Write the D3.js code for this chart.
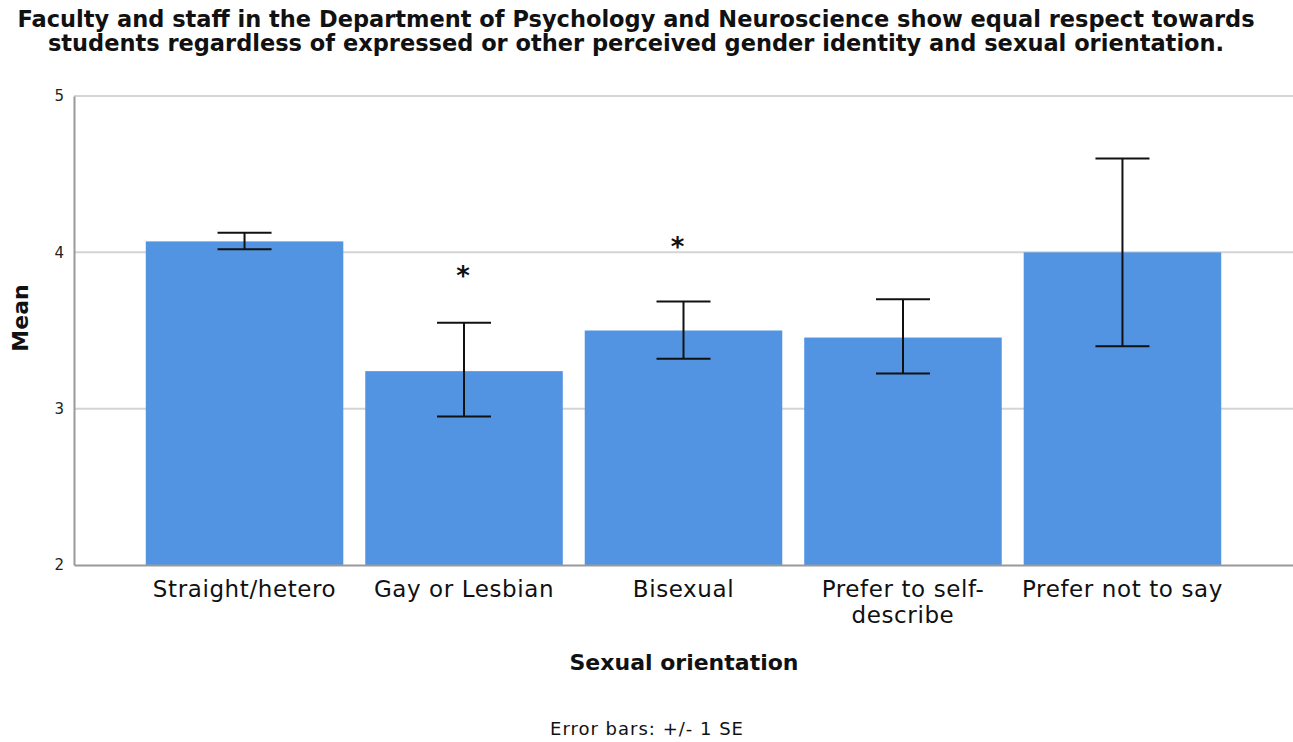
<!DOCTYPE html>
<html>
<head>
<meta charset="utf-8">
<script src="https://cdn.jsdelivr.net/npm/d3@7"></script>
<style>
  body { margin: 0; background: #fff; }
  text { font-family: "DejaVu Sans", sans-serif; }
</style>
</head>
<body>
<script>
const WIDTH = 1293
const HEIGHT = 742

const categories = ['Straight/hetero', 'Gay or Lesbian', 'Bisexual', 'Prefer to self-describe', 'Prefer not to say']
const means = [4.07, 3.24, 3.50, 3.455, 4.00]
const seLow = [4.02, 2.95, 3.32, 3.225, 3.40]
const seHigh = [4.125, 3.55, 3.685, 3.70, 4.60]
const marked = ['Gay or Lesbian', 'Bisexual']
const markLevel = [3.88, 4.07]
const yTicks = [2, 3, 4, 5]
const titleLines = [
  'Faculty and staff in the Department of Psychology and Neuroscience show equal respect towards',
  'students regardless of expressed or other perceived gender identity and sexual orientation.'
]

const margin = { top: 96, right: 0, bottom: 177, left: 74 }

const svg = d3.select('body').append('svg')
  .attr('width', WIDTH)
  .attr('height', HEIGHT)

const x = d3.scaleBand()
  .domain(categories)
  .range([margin.left, WIDTH - margin.right])
  .paddingInner(0.1)
  .paddingOuter(0.327)

const y = d3.scaleLinear()
  .domain([2, 5])
  .range([HEIGHT - margin.bottom, margin.top])

// title
svg.append('g')
  .selectAll('text')
  .data(titleLines)
  .enter()
  .append('text')
  .attr('x', 636)
  .attr('y', (d, i) => 27 + i * 24)
  .attr('text-anchor', 'middle')
  .attr('font-size', 22.5)
  .attr('font-weight', 'bold')
  .attr('fill', '#111')
  .text(d => d)

// gridlines
svg.append('g')
  .selectAll('line')
  .data(yTicks.filter(t => t > 2))
  .enter()
  .append('line')
  .attr('x1', margin.left)
  .attr('x2', WIDTH)
  .attr('y1', d => y(d))
  .attr('y2', d => y(d))
  .attr('stroke', '#d4d4d4')
  .attr('stroke-width', 2)

// bars
svg.append('g')
  .selectAll('rect')
  .data(categories)
  .enter()
  .append('rect')
  .attr('x', d => x(d))
  .attr('width', x.bandwidth())
  .attr('y', (d, i) => y(means[i]))
  .attr('height', (d, i) => y(2) - y(means[i]))
  .attr('fill', '#5294e2')

// error bars
const err = svg.append('g')
  .attr('stroke', '#111')
  .attr('stroke-width', 2)
  .selectAll('g')
  .data(categories)
  .enter()
  .append('g')
err.append('line')
  .attr('x1', d => x(d) + x.bandwidth() / 2)
  .attr('x2', d => x(d) + x.bandwidth() / 2)
  .attr('y1', (d, i) => y(seLow[i]))
  .attr('y2', (d, i) => y(seHigh[i]))
err.append('line')
  .attr('x1', d => x(d) + x.bandwidth() / 2 - 27)
  .attr('x2', d => x(d) + x.bandwidth() / 2 + 27)
  .attr('y1', (d, i) => y(seLow[i]))
  .attr('y2', (d, i) => y(seLow[i]))
err.append('line')
  .attr('x1', d => x(d) + x.bandwidth() / 2 - 27)
  .attr('x2', d => x(d) + x.bandwidth() / 2 + 27)
  .attr('y1', (d, i) => y(seHigh[i]))
  .attr('y2', (d, i) => y(seHigh[i]))

// significance marks
svg.append('g')
  .selectAll('text')
  .data(marked)
  .enter()
  .append('text')
  .attr('x', (d, i) => x(d) + x.bandwidth() / 2 - (i === 0 ? 1 : 6))
  .attr('y', (d, i) => y(markLevel[i]))
  .attr('dy', '0.55em')
  .attr('text-anchor', 'middle')
  .attr('font-size', 26)
  .attr('font-weight', 'bold')
  .attr('fill', '#111')
  .text('*')

// y axis
const yAxis = svg.append('g')
  .attr('transform', `translate(${margin.left},0)`)
  .call(d3.axisLeft(y).tickValues(yTicks).tickSize(0).tickPadding(10).tickFormat(d3.format('d')))
yAxis.select('.domain').attr('stroke', '#999').attr('stroke-width', 2)
yAxis.selectAll('text').attr('font-size', 15).attr('fill', '#222')

// x axis
const xAxis = svg.append('g')
  .attr('transform', `translate(0,${y(2)})`)
  .call(d3.axisBottom(x).tickSize(0).tickPadding(16))
xAxis.select('.domain').attr('stroke', '#999').attr('stroke-width', 2)
xAxis.selectAll('text')
  .attr('font-size', 23)
  .attr('letter-spacing', 0.6)
  .attr('fill', '#111')
  .each(function (d) {
    if (d === 'Prefer to self-describe') {
      const t = d3.select(this).text(null)
      t.append('tspan').attr('x', 0).attr('dy', '0.71em').text('Prefer to self-')
      t.append('tspan').attr('x', 0).attr('dy', '1.1em').text('describe')
      t.attr('dy', null)
    }
  })

// axis titles
svg.append('text')
  .attr('transform', `translate(28,318) rotate(-90)`)
  .attr('text-anchor', 'middle')
  .attr('font-size', 22)
  .attr('font-weight', 'bold')
  .attr('fill', '#111')
  .text('Mean')

svg.append('text')
  .attr('x', 684)
  .attr('y', 670)
  .attr('text-anchor', 'middle')
  .attr('font-size', 22)
  .attr('font-weight', 'bold')
  .attr('fill', '#111')
  .text('Sexual orientation')

svg.append('text')
  .attr('x', 647)
  .attr('y', 735)
  .attr('text-anchor', 'middle')
  .attr('font-size', 18)
  .attr('letter-spacing', 1)
  .attr('fill', '#111')
  .text('Error bars: +/- 1 SE')
</script>
</body>
</html>
